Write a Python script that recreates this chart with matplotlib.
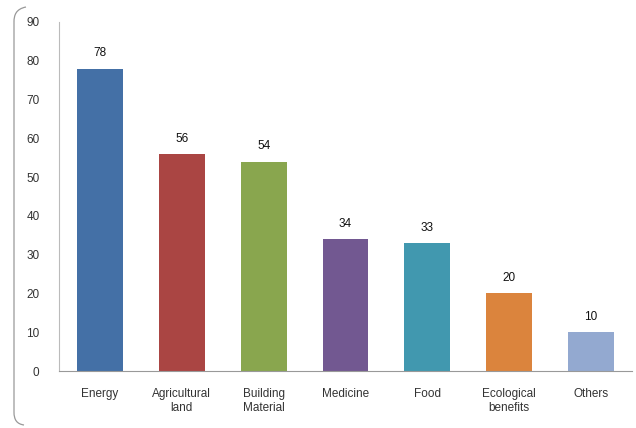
import matplotlib
matplotlib.use("Agg")
import matplotlib.pyplot as plt
from matplotlib.path import Path
from matplotlib.patches import PathPatch

categories = ["Energy", "Agricultural\nland", "Building\nMaterial", "Medicine", "Food", "Ecological\nbenefits", "Others"]
values = [78, 56, 54, 34, 33, 20, 10]
colors = ["#4470A6", "#AA4543", "#89A64E", "#725891", "#4198AF", "#DB843D", "#93A9D0"]
yticks = [0, 10, 20, 30, 40, 50, 60, 70, 80, 90]

plt.rcParams['font.family'] = ['Liberation Sans', 'DejaVu Sans']

W, H = 636, 428
fig = plt.figure(figsize=(W / 100, H / 100), dpi=100)
ax = fig.add_axes([59 / W, 57 / H, 573 / W, 349 / H])

x = list(range(len(categories)))
ax.bar(x, values, width=0.56, color=colors, edgecolor='none')
for xi, v in zip(x, values):
    ax.text(xi, v + 2.4, str(v), ha='center', va='bottom', fontsize=8.5, color='#111111')

ax.set_xlim(-0.5, 6.5)
ax.set_ylim(0, 90)
ax.set_yticks(yticks)
ax.set_yticklabels([str(t) for t in yticks], fontsize=8.5, color='#333333')
ax.set_xticks(x)
ax.set_xticklabels(categories, fontsize=8.5, color='#333333', linespacing=1.3)
ax.tick_params(axis='both', length=0)
ax.tick_params(axis='y', pad=14)
ax.tick_params(axis='x', pad=12)
for s in ['top', 'right']:
    ax.spines[s].set_visible(False)
ax.spines['left'].set_color('#BBBBBB')
ax.spines['bottom'].set_color('#999999')

# partial rounded frame on the left (pixel coords -> figure fraction)
def fpt(px, py):
    return (px / W, 1 - py / H)

verts = [fpt(26, 7), fpt(16, 9), fpt(14, 15), fpt(14, 22),
         fpt(14, 412),
         fpt(14, 420), fpt(17, 424), fpt(24, 425)]
codes = [Path.MOVETO, Path.CURVE4, Path.CURVE4, Path.CURVE4,
         Path.LINETO,
         Path.CURVE4, Path.CURVE4, Path.CURVE4]
frame = PathPatch(Path(verts, codes), transform=fig.transFigure, fill=False,
                  edgecolor='#999999', linewidth=0.9, clip_on=False)
fig.patches.append(frame)

fig.savefig("out.png", dpi=100)
